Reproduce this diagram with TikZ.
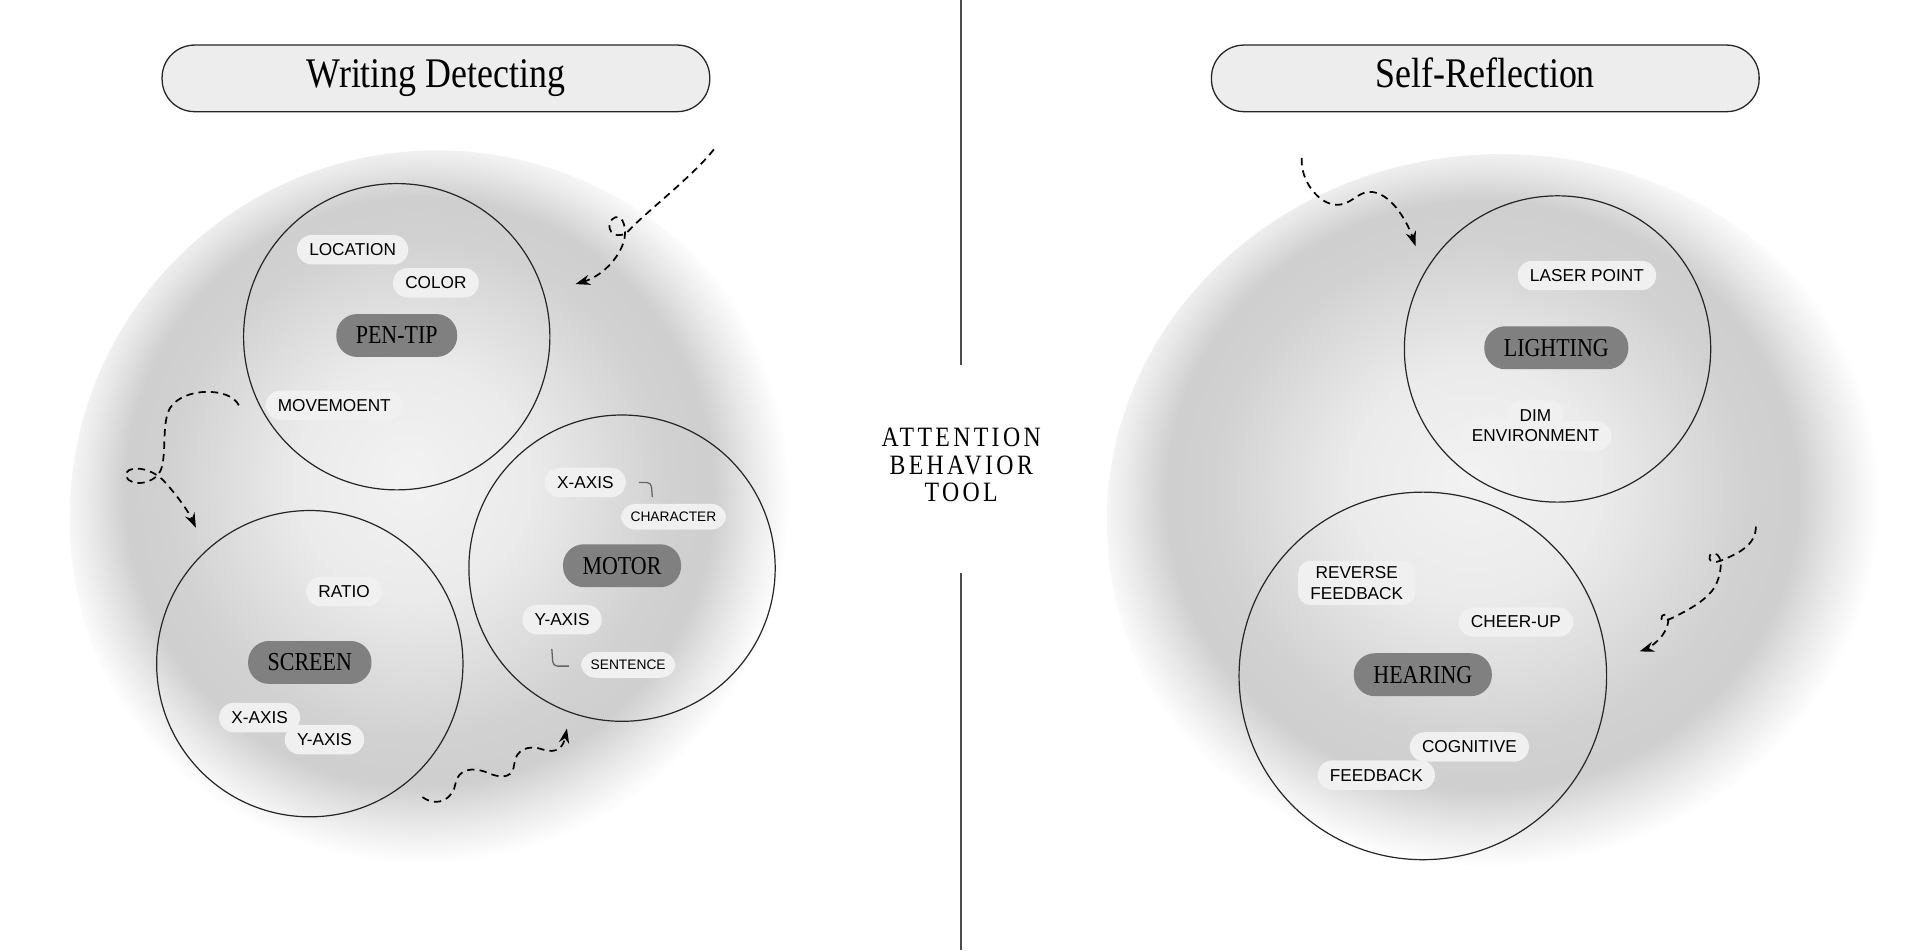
\documentclass[tikz,border=0pt]{standalone}
\usepackage{fontspec}
\usepackage{tikz}
\usetikzlibrary{arrows.meta,positioning,calc}
\newfontfamily\headfont[FakeStretch=0.85]{Liberation Serif}
\newfontfamily\spacefont[FakeStretch=0.85,LetterSpace=12]{Liberation Serif}
\newfontfamily\tagfont{Liberation Sans}
\pgfdeclareradialshading{glow}{\pgfpoint{-2bp}{3bp}}{color(0bp)=(black!5); color(8bp)=(black!8); color(17bp)=(black!18); color(20bp)=(black!19); color(22.5bp)=(black!9); color(25bp)=(white); color(50bp)=(white)}

\begin{document}
\begin{tikzpicture}[x=0.01cm,y=-0.01cm,
  title/.style={draw=black!85,line width=0.3pt,fill=black!7,rounded corners=0.265cm,minimum width=4.47cm,minimum height=0.53cm,text height=6.6pt,text depth=2.2pt,font=\headfont\fontsize{9.8}{11}\selectfont},
  ring/.style={circle,draw=black!85,line width=0.28pt},
  core/.style={fill=gray,rounded corners=0.17cm,minimum height=0.35cm,inner xsep=0.16cm,inner ysep=0pt,font=\headfont\fontsize{6}{7}\selectfont},
  tag/.style={fill=black!6,rounded corners=0.12cm,minimum height=0.24cm,inner xsep=0.1cm,inner ysep=0pt,font=\tagfont\fontsize{4}{4.8}\selectfont},
  smalltag/.style={tag,font=\tagfont\fontsize{3.2}{4}\selectfont,minimum height=0.21cm,inner xsep=0.08cm},
  trail/.style={dash pattern=on 1.7pt off 1.2pt,line width=0.4pt,-{Stealth[length=3.4pt,width=2.4pt]}},
  brace/.style={draw=black!60,line width=0.3pt,rounded corners=1pt}]
\useasboundingbox (0,0) rectangle (1568,776);
% background glow
\shade[shading=glow] (357,423) circle [radius=3cm];
\shade[shading=glow] (1226,426) ellipse [x radius=3.22cm,y radius=3cm];
% divider
\node[align=center,font=\spacefont\fontsize{6.5}{6.4}\selectfont] (tool) at (785,380) {ATTENTION\\BEHAVIOR\\TOOL};
\coordinate (top) at (785,0);
\coordinate (bottom) at (785,776);
\draw[black!70,line width=0.4pt] (top) -- (785,298);
\draw[black!70,line width=0.4pt] (785,468) -- (bottom);
% titles
\node[title] (writing) at (356,64) {Writing Detecting};
\node[title] (reflection) at (1213,64) {Self-Reflection};
% writing detecting
\node[ring,minimum size=2.5cm] (pentipring) at (324,275) {};
\node[ring,minimum size=2.5cm] (screenring) at (253,542) {};
\node[ring,minimum size=2.5cm] (motorring) at (508,464) {};
\node[core] (pentip) at (324,274) {PEN-TIP};
\node[tag] (location) at (288,204) {LOCATION};
\node[tag] (color) at (356,231) {COLOR};
\node[tag] (movement) at (273,331) {MOVEMOENT};
\node[core] (screen) at (253,541) {SCREEN};
\node[tag] (ratio) at (281,483) {RATIO};
\node[tag] (sx) at (212,586) {X-AXIS};
\node[tag] (sy) at (265,604) {Y-AXIS};
\node[core] (motor) at (508,462) {MOTOR};
\node[tag] (mx) at (478,394) {X-AXIS};
\node[smalltag] (character) at (550,422) {CHARACTER};
\node[tag] (my) at (459,506) {Y-AXIS};
\node[smalltag] (sentence) at (513,543) {SENTENCE};
\draw[brace] ($(mx.east)+(10,0)$) -- ++(10,0) -- ++(1,12);
\draw[brace] ($(sentence.west)+(-9,1)$) -- ++(-13,0) -- ++(-1,-14);
% self-reflection
\node[ring,minimum size=2.5cm] (lightring) at (1272,285) {};
\node[ring,minimum size=3cm] (hearring) at (1162,552) {};
\node[core] (lighting) at (1271,284) {LIGHTING};
\node[tag] (laser) at (1296,225) {LASER POINT};
\node[tag] (dim) at (1254,339) {DIM};
\node[tag] (environment) at (1254,356) {ENVIRONMENT};
\node[core] (hearing) at (1162,551) {HEARING};
\node[tag,align=center,rounded corners=0.1cm,inner ysep=1.3pt] (reverse) at (1108,476) {REVERSE\\FEEDBACK};
\node[tag] (cheer) at (1238,508) {CHEER-UP};
\node[tag] (cognitive) at (1200,610) {COGNITIVE};
\node[tag] (feedback) at (1124,633) {FEEDBACK};
% dashed trails
\coordinate (s1) at (583,122); \coordinate (e1) at (470,232);
\coordinate (s2) at (195,331); \coordinate (e2) at (160,431);
\coordinate (s3) at (345,651); \coordinate (e3) at (463,595);
\coordinate (s4) at (1063,129); \coordinate (e4) at (1156,201);
\coordinate (s5) at (1434,430); \coordinate (e5) at (1339,532);
\draw[trail] (s1) .. controls (565,145) and (525,175) .. (512,190) .. controls (500,197) and (494,185) .. (500,179) .. controls (507,173) and (512,183) .. (510,195) .. controls (506,212) and (490,226) .. (e1);
\draw[trail] (s2) .. controls (188,316) and (150,316) .. (139,333) .. controls (132,345) and (136,368) .. (132,382) .. controls (128,396) and (106,398) .. (103,389) .. controls (101,380) and (122,380) .. (134,393) .. controls (145,405) and (154,418) .. (e2);
\draw[trail] (s3) .. controls (358,660) and (370,652) .. (372,640) .. controls (374,628) and (386,626) .. (398,631) .. controls (412,637) and (419,634) .. (420,624) .. controls (421,612) and (432,608) .. (443,612) .. controls (455,616) and (460,610) .. (e3);
\draw[trail] (s4) .. controls (1062,150) and (1080,170) .. (1095,167) .. controls (1106,165) and (1110,155) .. (1122,157) .. controls (1138,160) and (1150,183) .. (e4);
\draw[trail] (s5) .. controls (1434,445) and (1420,452) .. (1405,458) .. controls (1395,462) and (1393,452) .. (1400,452) .. controls (1408,453) and (1406,470) .. (1400,480) .. controls (1392,492) and (1375,500) .. (1365,505) .. controls (1355,510) and (1355,502) .. (1360,502) .. controls (1365,503) and (1362,515) .. (1355,522) .. controls (1350,527) and (1345,530) .. (e5);
\end{tikzpicture}
\end{document}
